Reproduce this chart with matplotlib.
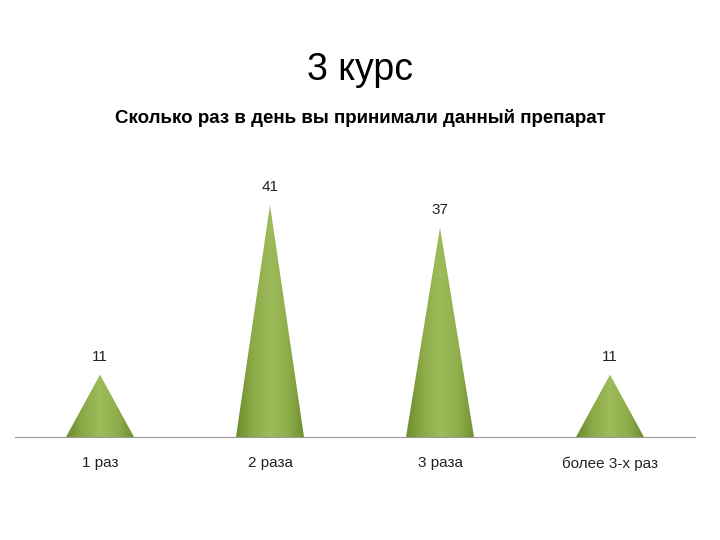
import numpy as np
import matplotlib.pyplot as plt
from matplotlib.patches import Polygon
from matplotlib.colors import LinearSegmentedColormap

categories = ['1 раз', '2 раза', '3 раза', 'более 3-х раз']
values = [11, 41, 37, 11]

plt.rcParams['font.family'] = ['Liberation Sans', 'DejaVu Sans']

fig = plt.figure(figsize=(7.2, 5.4), dpi=100)
ax = fig.add_axes([15 / 720, 103 / 540, 680 / 720, 283 / 540])
ax.set_xlim(-0.5, 3.5)
ax.set_ylim(0, 50)

# horizontal shading for the cones: dark edges, light middle
cmap = LinearSegmentedColormap.from_list(
    'cone', ['#6c8c2e', '#8cab48', '#9dbb5a', '#90af4c', '#6f8f30'])
grad = np.linspace(0, 1, 256).reshape(1, -1)

half = 0.2
for i, v in enumerate(values):
    tri = Polygon([(i - half, 0), (i, v), (i + half, 0)], closed=True,
                  facecolor='none', edgecolor='none')
    ax.add_patch(tri)
    im = ax.imshow(grad, cmap=cmap, aspect='auto',
                   extent=(i - half, i + half, 0, v), zorder=2)
    im.set_clip_path(tri)
    ax.annotate(str(v), (i, v), xytext=(0, 13), textcoords='offset points',
                ha='center', va='center', fontsize=11, color='#222222')

for s in ['top', 'right', 'left']:
    ax.spines[s].set_visible(False)
ax.spines['bottom'].set_color('#999999')
ax.set_yticks([])
ax.set_xticks(range(len(categories)))
ax.set_xticklabels(categories, fontsize=11, color='#222222')
ax.tick_params(axis='x', length=0, pad=14)

fig.text(0.5, 1 - 70 / 540, '3 курс', ha='center', va='center', fontsize=27)
fig.text(0.5, 1 - 118 / 540, 'Сколько раз в день вы принимали данный препарат',
         ha='center', va='center', fontsize=13.5, fontweight='bold')

fig.savefig('out.png', dpi=100)
